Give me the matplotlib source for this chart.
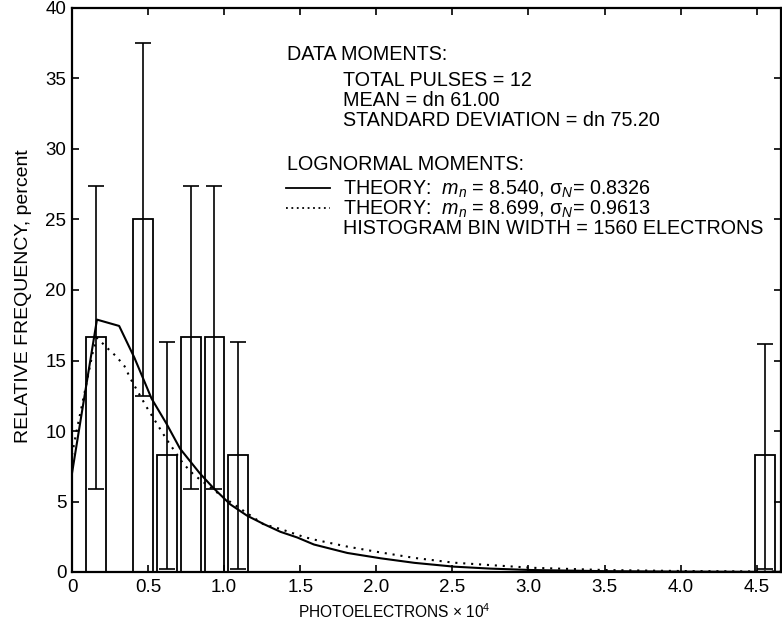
import numpy as np
import matplotlib
matplotlib.use('Agg')
import matplotlib.pyplot as plt

plt.rcParams['font.family'] = ['Liberation Sans', 'DejaVu Sans']
plt.rcParams['mathtext.fontset'] = 'custom'
plt.rcParams['mathtext.rm'] = 'Liberation Sans'
plt.rcParams['mathtext.it'] = 'Liberation Sans:italic'

# Histogram bins (x in photoelectrons x 10^4, heights in percent)
bin_centers = [0.156, 0.468, 0.624, 0.780, 0.936, 1.092, 4.556]
bin_heights = [16.67, 25.0, 8.33, 16.67, 16.67, 8.33, 8.33]
err_low = [5.9, 12.5, 0.2, 5.9, 5.9, 0.2, 0.2]
err_high = [27.4, 37.5, 16.3, 27.4, 27.4, 16.3, 16.2]

# Lognormal theory curves
solid_x = [0, 0.048, 0.164, 0.31, 0.41, 0.523, 0.622, 0.71, 0.84, 0.93, 1.04,
           1.15, 1.26, 1.37, 1.48, 1.59, 1.81, 2.03, 2.25, 2.51, 2.75, 3.02,
           3.5, 4.0, 4.5, 4.66]
solid_y = [7.0, 10.2, 17.9, 17.45, 15.2, 12.3, 10.5, 8.75, 7.0, 5.95, 4.8,
           4.0, 3.4, 2.85, 2.45, 1.95, 1.35, 0.97, 0.65, 0.38, 0.24, 0.14,
           0.06, 0.03, 0.01, 0.01]
dot_x = [0, 0.03, 0.09, 0.135, 0.165, 0.24, 0.29, 0.345, 0.385, 0.49, 0.622,
         0.73, 0.80, 0.995, 1.257, 1.37, 1.52, 1.59, 1.81, 2.01, 2.25, 2.51,
         3.02, 3.5, 4.0, 4.5, 4.66]
dot_y = [8.3, 10.0, 13.1, 15.5, 16.6, 15.8, 15.3, 14.6, 13.7, 11.7, 9.4,
         7.7, 6.9, 5.3, 3.4, 3.05, 2.5, 2.3, 1.8, 1.42, 1.0, 0.66,
         0.3, 0.14, 0.07, 0.04, 0.04]

xticks = [0, 0.5, 1.0, 1.5, 2.0, 2.5, 3.0, 3.5, 4.0, 4.5]
xtick_labels = ['0', '0.5', '1.0', '1.5', '2.0', '2.5', '3.0', '3.5', '4.0', '4.5']
yticks = [0, 5, 10, 15, 20, 25, 30, 35, 40]

W, H = 782, 636
fig = plt.figure(figsize=(W / 100, H / 100), dpi=100)
ax = fig.add_axes([72 / W, 1 - 572 / H, 709 / W, 564 / H])

ax.bar(bin_centers, bin_heights, width=0.13, fill=False, edgecolor='black',
       linewidth=1.3)
lo = np.array(bin_heights) - np.array(err_low)
hi = np.array(err_high) - np.array(bin_heights)
ax.errorbar(bin_centers, bin_heights, yerr=[lo, hi], fmt='none', ecolor='black',
            elinewidth=1.2, capsize=5.5, capthick=1.2)

ax.plot(solid_x, solid_y, color='black', lw=1.5)
ax.plot(dot_x, dot_y, color='black', lw=1.5, linestyle=(0, (1, 2.8)))

ax.set_xlim(0, 4.66)
ax.set_ylim(0, 40)
ax.set_xticks(xticks)
ax.set_xticklabels(xtick_labels)
ax.set_yticks(yticks)
ax.tick_params(direction='in', length=5, width=1.2, top=True, right=True,
               labelsize=13.5)
ax.tick_params(axis='x', pad=5)
ax.tick_params(axis='y', pad=4)
for s in ax.spines.values():
    s.set_linewidth(1.6)

ax.set_xlabel('PHOTOELECTRONS $\\times$ 10$^4$', fontsize=11.2)
ax.xaxis.set_label_coords(0.454, -0.071)
ax.xaxis.label.set_va('center')
ax.set_ylabel('RELATIVE FREQUENCY, percent', fontsize=14)
ax.yaxis.set_label_coords(-0.068, 0.490)
ax.yaxis.label.set_va('center')


# annotation block, positioned in pixels from top-left
def put(px, py, s):
    fig.text(px / W, 1 - py / H, s, fontsize=14.2, va='center', ha='left')


put(287, 54, 'DATA MOMENTS:')
put(343, 81, 'TOTAL PULSES = 12')
put(343, 100, 'MEAN = dn 61.00')
put(343, 120, 'STANDARD DEVIATION = dn 75.20')
put(287, 165, 'LOGNORMAL MOMENTS:')
put(343, 189, 'THEORY:  $m_n$ = 8.540, σ$_N$= 0.8326')
put(343, 209, 'THEORY:  $m_n$ = 8.699, σ$_N$= 0.9613')
put(343, 229, 'HISTOGRAM BIN WIDTH = 1560 ELECTRONS')
fig.add_artist(plt.Line2D([286 / W, 330 / W], [1 - 188 / H, 1 - 188 / H],
                          color='black', lw=1.3))
fig.add_artist(plt.Line2D([286 / W, 330 / W], [1 - 208 / H, 1 - 208 / H],
                          color='black', lw=1.3, linestyle=(0, (1, 2))))

fig.savefig('out.png', dpi=100)
